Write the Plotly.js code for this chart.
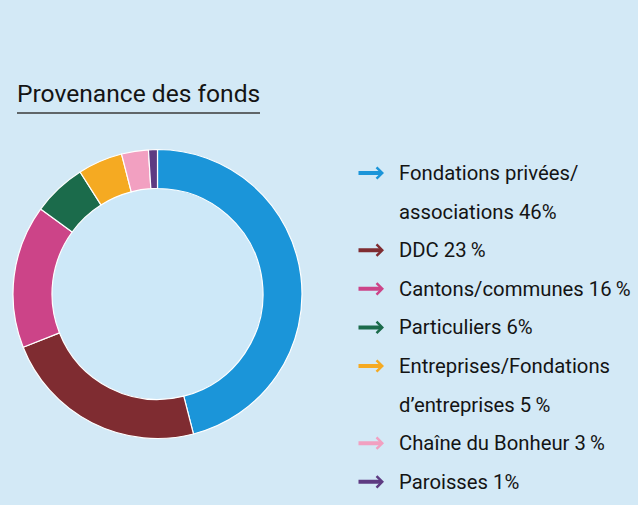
<!DOCTYPE html>
<html>
<head>
<meta charset="utf-8">
<script src="https://cdn.plot.ly/plotly-3.0.1.min.js"></script>
<style>
html,body{margin:0;padding:0;background:#d3e9f6;}
#chart{width:638px;height:505px;}
</style>
</head>
<body>
<div id="chart"></div>
<script>
// ---- data ----
var labels = ["Fondations privées/associations", "DDC", "Cantons/communes", "Particuliers", "Entreprises/Fondations d’entreprises", "Chaîne du Bonheur", "Paroisses"];
var values = [46, 23, 16, 6, 5, 3, 1];
var colors = ["#1b95d9", "#7f2c31", "#cc4488", "#1b6b4b", "#f5aa22", "#f2a0c1", "#5e3b82"];
var legendText = [
  ["Fondations privées/", "associations 46%"],
  ["DDC 23\u2009%"],
  ["Cantons/communes 16\u2009%"],
  ["Particuliers 6%"],
  ["Entreprises/Fondations", "d’entreprises 5\u2009%"],
  ["Chaîne du Bonheur 3\u2009%"],
  ["Paroisses 1%"]
];
var chartTitle = "Provenance des fonds";

// ---- layout helpers ----
var W = 638, H = 505;
var FONT = "Roboto, 'Open Sans', sans-serif";
var rowStart = 173, rowStep = 38.6;
var annotations = [];
var row = 0;
legendText.forEach(function (lines, i) {
  var yRow = rowStart + row * rowStep;
  annotations.push({
    x: 384, y: yRow, ax: 357, ay: yRow, xref: 'x', yref: 'y', axref: 'x', ayref: 'y',
    text: '', showarrow: true, arrowhead: 4, arrowwidth: 4, arrowsize: 0.55,
    arrowcolor: colors[i]
  });
  lines.forEach(function (ln) {
    var y = rowStart + row * rowStep;
    annotations.push({
      x: 397, y: y, xref: 'x', yref: 'y', xanchor: 'left', yanchor: 'middle',
      text: ln, showarrow: false, font: {family: FONT, size: 20.3, color: '#141414'}
    });
    row++;
  });
});

var cx = 157.5, cy = 294, rOut = 144.5, rIn = 105.5;

var data = [{
  type: 'pie',
  labels: labels,
  values: values,
  marker: {colors: colors, line: {color: '#ffffff', width: 1.2}},
  hole: rIn / rOut,
  sort: false,
  direction: 'clockwise',
  rotation: 0,
  textinfo: 'none',
  hoverinfo: 'skip',
  showlegend: false,
  domain: {x: [(cx - rOut) / W, (cx + rOut) / W], y: [1 - (cy + rOut) / H, 1 - (cy - rOut) / H]}
}];

var layout = {
  width: W, height: H,
  margin: {l: 0, r: 0, t: 0, b: 0},
  paper_bgcolor: '#d3e9f6',
  plot_bgcolor: 'rgba(0,0,0,0)',
  xaxis: {range: [0, W], visible: false, fixedrange: true},
  yaxis: {range: [H, 0], visible: false, fixedrange: true},
  showlegend: false,
  title: {
    text: chartTitle, x: 17 / W, xanchor: 'left', xref: 'paper',
    y: 1 - 93 / H, yanchor: 'middle', yref: 'paper',
    font: {family: FONT, size: 24.6, color: '#141414'}
  },
  shapes: [
    {type: 'line', xref: 'x', yref: 'y', x0: 17, x1: 260, y0: 113, y1: 113,
     line: {color: '#3a3a3a', width: 1.5}},
    {type: 'circle', xref: 'x', yref: 'y', layer: 'below',
     x0: cx - rIn, x1: cx + rIn, y0: cy - rIn, y1: cy + rIn,
     fillcolor: '#cde8f8', line: {width: 0}}
  ],
  annotations: annotations
};

Plotly.newPlot('chart', data, layout, {displayModeBar: false, staticPlot: true});
</script>
</body>
</html>
